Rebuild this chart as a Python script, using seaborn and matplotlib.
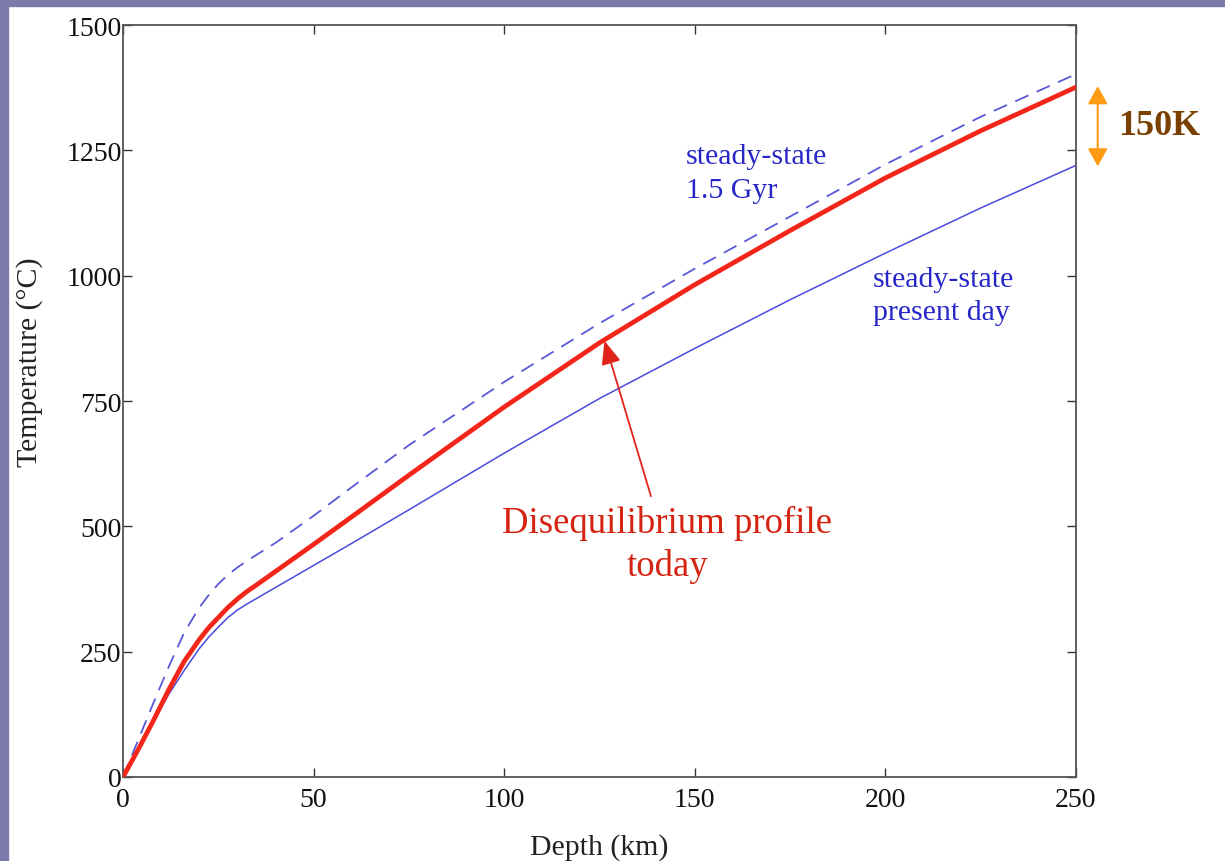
import numpy as np
import pandas as pd
import matplotlib
matplotlib.use("Agg")
import matplotlib.pyplot as plt
from matplotlib.patches import Rectangle
import seaborn as sns

# ---- data ----
depth_km = [0, 4, 8, 12, 16, 20, 22.5, 25, 27.5, 30, 32.5, 35, 40, 45, 50, 60, 75, 100, 125, 150, 175, 200, 225, 250]
steady_present = [0, 55, 111, 165, 212, 256, 279, 299, 318, 333, 345, 356, 378, 400, 422, 466, 533, 646, 755, 855, 952, 1045, 1135, 1220]
disequilibrium = [0, 55, 113, 174, 230, 274, 298, 318, 338, 355, 370, 383, 410, 437, 464, 519, 602, 738, 866, 982, 1090, 1195, 1289, 1376]
steady_15gyr = [0, 74, 148, 220, 287, 338, 363, 385, 403, 418, 431, 443, 467, 494, 521, 578, 662, 788, 905, 1014, 1118, 1222, 1317, 1402]

x_ticks = [0, 50, 100, 150, 200, 250]
y_ticks = [0, 250, 500, 750, 1000, 1250, 1500]

sns.set_theme(style="white")
plt.rcParams["font.family"] = ["Liberation Serif", "DejaVu Serif"]

fig = plt.figure(figsize=(12.25, 8.62), dpi=100)
ax = fig.add_axes([123 / 1225, 1 - 778 / 862, (1076 - 123) / 1225, (778 - 26) / 862])

df = pd.DataFrame({"depth": depth_km, "present": steady_present,
                   "diseq": disequilibrium, "gyr": steady_15gyr})

sns.lineplot(data=df, x="depth", y="gyr", ax=ax, color="#5858d8", lw=1.3,
             linestyle=(0, (8, 5)), zorder=3)
sns.lineplot(data=df, x="depth", y="present", ax=ax, color="#4a4ade", lw=1.1, zorder=3)
sns.lineplot(data=df, x="depth", y="diseq", ax=ax, color="#f4261a", lw=3.4, zorder=4)

ax.set_xlim(0, 250)
ax.set_ylim(0, 1500)
ax.set_xticks(x_ticks)
ax.set_yticks(y_ticks)
ax.set_xticklabels([str(v) for v in x_ticks])
ax.set_yticklabels([str(v) for v in y_ticks])

for s in ax.spines.values():
    s.set_color("#555555")
    s.set_linewidth(1.3)
    s.set_visible(True)

ax.tick_params(axis="both", direction="in", length=6.5, width=1.0, color="#333333",
               labelsize=20, labelcolor="#111111", top=True, right=True,
               bottom=True, left=True)
ax.tick_params(axis="y", pad=1)
ax.tick_params(axis="x", pad=7.5)

ax.set_xlabel("Depth (km)", fontsize=21.5, color="#222222")
ax.set_ylabel("Temperature (°C)", fontsize=21.5, color="#222222", va="center")
ax.xaxis.set_label_coords(0.5, -(834 - 778) / 752)
ax.yaxis.set_label_coords((30 - 123) / 953, (778 - 362) / 752)

# annotations
ax.text(147.6, 1205, "steady-state\n1.5 Gyr", color="#2626c8", fontsize=21.5,
        ha="left", va="center", linespacing=1.4)
ax.text(196.7, 961, "steady-state\npresent day", color="#2626c8", fontsize=21.5,
        ha="left", va="center", linespacing=1.35)
ax.text(142.7, 465, "Disequilibrium profile\ntoday", color="#d42412", fontsize=26.5,
        ha="center", va="center", linespacing=1.3)
ax.annotate("", xy=(126.3, 870), xytext=(138.5, 560),
            arrowprops=dict(arrowstyle="-|>,head_length=1.2,head_width=0.5",
                            color="#e0241a", lw=1.3, shrinkA=0, shrinkB=0))

# 150K marker outside the axes
ax.annotate("", xy=(255.7, 1378), xytext=(255.7, 1218), xycoords="data",
            arrowprops=dict(arrowstyle="<|-|>,head_length=0.9,head_width=0.5",
                            color="#ff9a14", lw=1.5, shrinkA=0, shrinkB=0),
            annotation_clip=False)
ax.text(261, 1300, "150K", color="#7a4000", fontsize=26, fontweight="bold",
        ha="left", va="center", clip_on=False)

# slide border strips
fig.patches.append(Rectangle((0, 1 - 7 / 862), 1, 7 / 862, transform=fig.transFigure,
                             color="#7b7aab", zorder=-1))
fig.patches.append(Rectangle((0, 0), 8 / 1225, 1, transform=fig.transFigure,
                             color="#7b7aab", zorder=-1))

fig.savefig("out.png", dpi=100)
